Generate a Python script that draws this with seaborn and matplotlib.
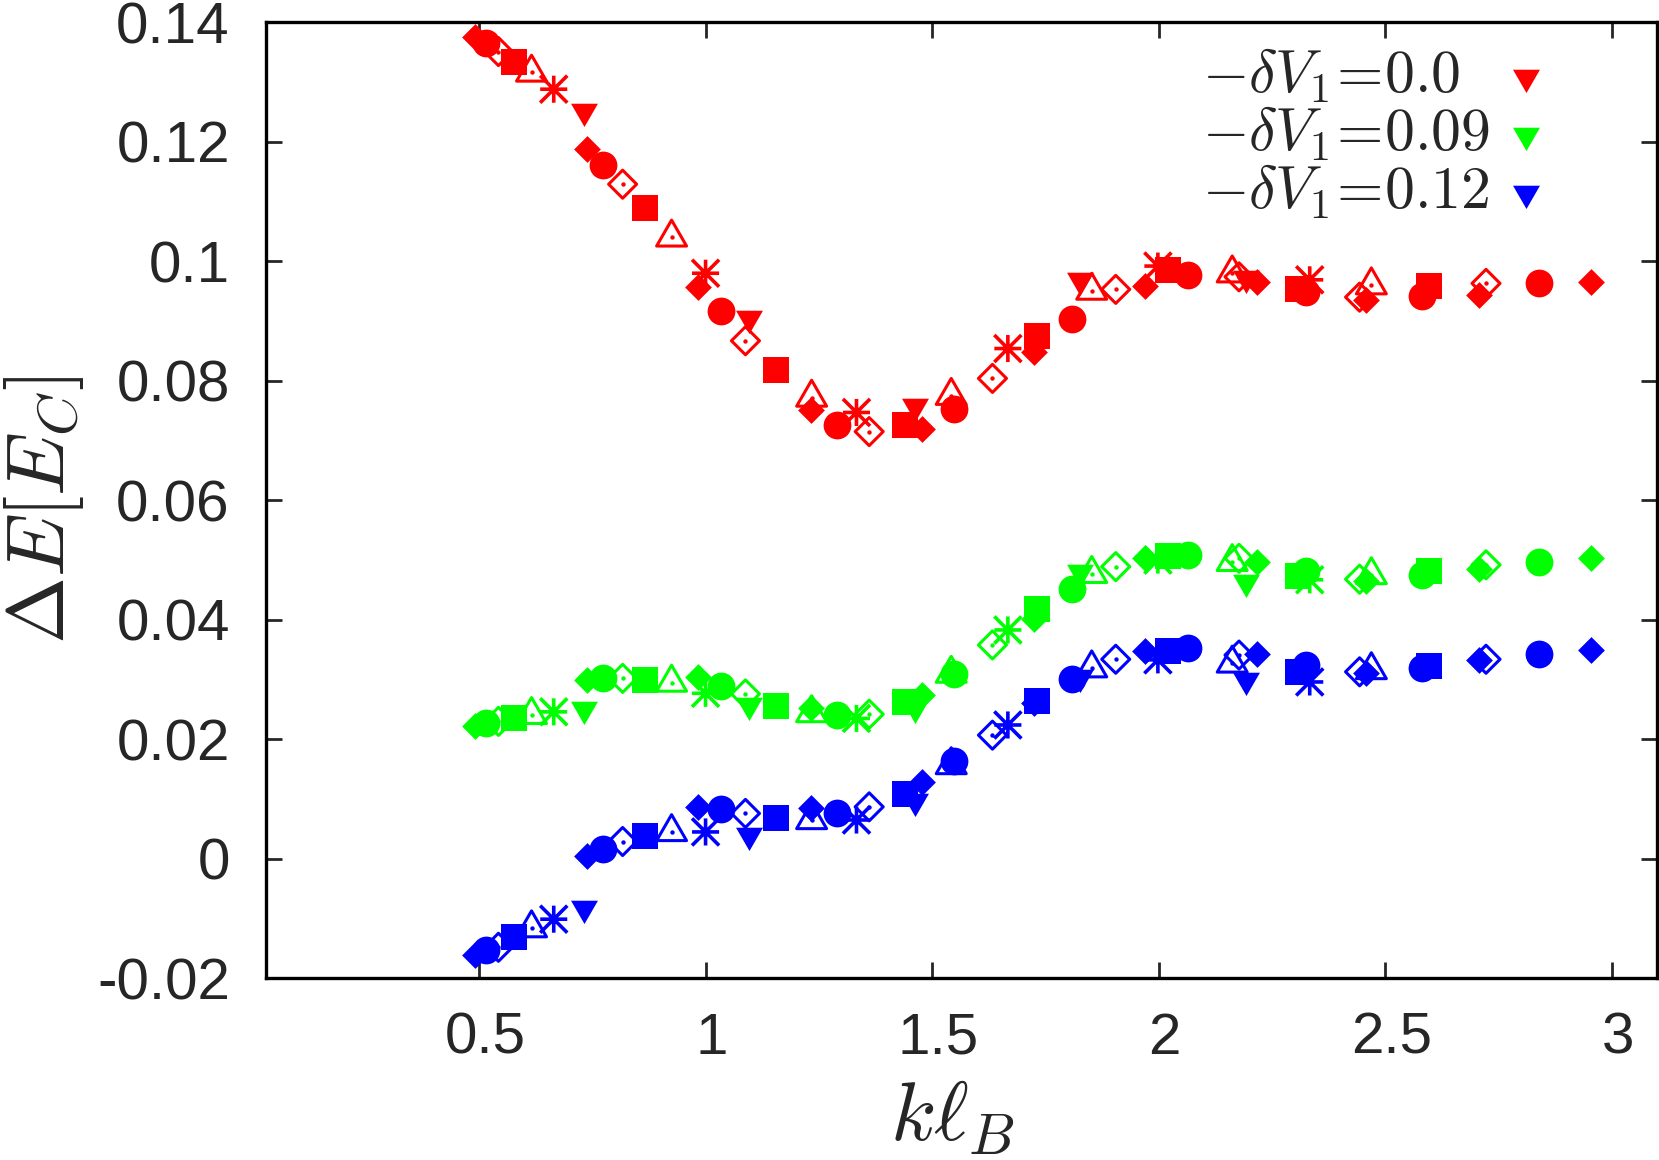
import matplotlib
matplotlib.use("Agg")
import numpy as np
import pandas as pd
import matplotlib.pyplot as plt
from matplotlib.path import Path
from matplotlib.transforms import ScaledTranslation, IdentityTransform
import seaborn as sns

# k*l_B values, one list per system size (marker type)
k_diam = [0.492, 0.739, 0.984, 1.232, 1.477, 1.725, 1.969, 2.216, 2.458, 2.706, 2.953]
k_circ = [0.516, 0.774, 1.033, 1.290, 1.549, 1.808, 2.065, 2.325, 2.581, 2.839]
k_odiam = [0.543, 0.817, 1.088, 1.361, 1.633, 1.905, 2.177, 2.443, 2.722]
k_sq = [0.577, 0.866, 1.155, 1.441, 1.732, 2.021, 2.307, 2.597]
k_otri = [0.616, 0.925, 1.234, 1.542, 1.852, 2.162, 2.469]
k_star = [0.665, 1.000, 1.333, 1.667, 1.998, 2.333]
k_dtri = [0.731, 1.096, 1.461, 1.826, 2.192]

# -dV1 = 0.0 (red)
red_diam = [0.1375, 0.1188, 0.0957, 0.0751, 0.0719, 0.0849, 0.0959, 0.0965, 0.0935, 0.0944, 0.0966]
red_circ = [0.1365, 0.1161, 0.0916, 0.0726, 0.0752, 0.0903, 0.0977, 0.0949, 0.0942, 0.0964]
red_odiam = [0.1351, 0.1129, 0.0867, 0.0715, 0.0804, 0.0953, 0.0974, 0.0940, 0.0963]
red_sq = [0.1334, 0.1089, 0.0818, 0.0726, 0.0875, 0.0985, 0.0953, 0.0959]
red_otri = [0.1316, 0.1040, 0.0772, 0.0775, 0.0951, 0.0980, 0.0960]
red_star = [0.1288, 0.0980, 0.0747, 0.0854, 0.0992, 0.0969]
red_dtri = [0.1252, 0.0905, 0.0757, 0.0968, 0.0972]

# -dV1 = 0.09 (green)
green_diam = [0.0223, 0.0300, 0.0305, 0.0253, 0.0274, 0.0402, 0.0503, 0.0497, 0.0465, 0.0485, 0.0503]
green_circ = [0.0227, 0.0302, 0.0290, 0.0240, 0.0309, 0.0451, 0.0508, 0.0481, 0.0475, 0.0497]
green_odiam = [0.0230, 0.0302, 0.0276, 0.0242, 0.0358, 0.0489, 0.0503, 0.0468, 0.0492]
green_sq = [0.0235, 0.0300, 0.0256, 0.0262, 0.0418, 0.0507, 0.0473, 0.0482]
green_otri = [0.0241, 0.0295, 0.0244, 0.0310, 0.0477, 0.0497, 0.0475]
green_star = [0.0246, 0.0277, 0.0235, 0.0383, 0.0500, 0.0467]
green_dtri = [0.0250, 0.0258, 0.0252, 0.0480, 0.0464]

# -dV1 = 0.12 (blue)
blue_diam = [-0.0161, 0.0005, 0.0087, 0.0085, 0.0129, 0.0260, 0.0348, 0.0343, 0.0311, 0.0332, 0.0349]
blue_circ = [-0.0153, 0.0016, 0.0083, 0.0077, 0.0164, 0.0301, 0.0352, 0.0324, 0.0320, 0.0342]
blue_odiam = [-0.0148, 0.0029, 0.0076, 0.0087, 0.0207, 0.0334, 0.0341, 0.0313, 0.0334]
blue_sq = [-0.0130, 0.0038, 0.0069, 0.0108, 0.0264, 0.0348, 0.0313, 0.0323]
blue_otri = [-0.0116, 0.0045, 0.0065, 0.0157, 0.0319, 0.0327, 0.0316]
blue_star = [-0.0101, 0.0045, 0.0065, 0.0224, 0.0333, 0.0296]
blue_dtri = [-0.0083, 0.0040, 0.0096, 0.0305, 0.0299]

labels = [r"$-\delta V_1\!=\!0.0$", r"$-\delta V_1\!=\!0.09$", r"$-\delta V_1\!=\!0.12$"]
colors = ["#ff0000", "#00ff00", "#0000ff"]

x_ticks = [0.5, 1, 1.5, 2, 2.5, 3]
x_ticklabels = ["0.5", "1", "1.5", "2", "2.5", "3"]
y_ticks = [-0.02, 0, 0.02, 0.04, 0.06, 0.08, 0.1, 0.12, 0.14]
y_ticklabels = ["-0.02", "0", "0.02", "0.04", "0.06", "0.08", "0.1", "0.12", "0.14"]

# gnuplot style point shapes (triangles centred on their centroid)
tri_up = Path([(0, 0.577), (-0.5, -0.289), (0.5, -0.289), (0, 0.577)], closed=True)
tri_down = Path([(0, -0.577), (-0.5, 0.289), (0.5, 0.289), (0, -0.577)], closed=True)
asterisk = Path([(-1, 0), (1, 0), (0, -1), (0, 1), (-1, -1), (1, 1), (-1, 1), (1, -1)],
                [Path.MOVETO, Path.LINETO] * 4)

# name -> (x values, marker, size, kind, edge width)
styles = {
    "diam": (k_diam, "D", 186, "filled", 0),
    "circ": (k_circ, "o", 400, "filled", 0),
    "odiam": (k_odiam, "D", 204, "open", 2.2),
    "sq": (k_sq, "s", 370, "filled", 0),
    "otri": (k_otri, tri_up, 620, "open", 2.2),
    "star": (k_star, asterisk, 380, "line", 2.6),
    "dtri": (k_dtri, tri_down, 500, "filled", 0),
}
series = {
    0: {"diam": red_diam, "circ": red_circ, "odiam": red_odiam, "sq": red_sq,
        "otri": red_otri, "star": red_star, "dtri": red_dtri},
    1: {"diam": green_diam, "circ": green_circ, "odiam": green_odiam, "sq": green_sq,
        "otri": green_otri, "star": green_star, "dtri": green_dtri},
    2: {"diam": blue_diam, "circ": blue_circ, "odiam": blue_odiam, "sq": blue_sq,
        "otri": blue_otri, "star": blue_star, "dtri": blue_dtri},
}

sns.set_style("ticks")
plt.rcParams["font.family"] = ["Liberation Sans", "DejaVu Sans"]
plt.rcParams["mathtext.fontset"] = "cm"

fig = plt.figure(figsize=(16.59, 11.6), dpi=100)
ax = fig.add_axes([0.1603, 0.1566, 0.8387, 0.8242])

for i, col in enumerate(colors):
    for name, (kx, mk, size, kind, lw) in styles.items():
        df = pd.DataFrame({"k": kx, "dE": series[i][name]})
        lab = labels[i] if name == "dtri" else None
        if kind == "filled":
            sns.scatterplot(data=df, x="k", y="dE", ax=ax, marker=mk, s=size,
                            color=col, linewidth=0, label=lab, legend=False)
        else:
            sns.scatterplot(data=df, x="k", y="dE", ax=ax, marker=mk, s=size,
                            facecolor="none", edgecolor=col, linewidth=lw, legend=False)
            if kind == "open":
                sns.scatterplot(data=df, x="k", y="dE", ax=ax, marker="o", s=10,
                                color=col, linewidth=0, legend=False)

ax.set_xlim(0.03, 3.1)
ax.set_ylim(-0.02, 0.14)
ax.set_xticks(x_ticks, x_ticklabels)
ax.set_yticks(y_ticks, y_ticklabels)
ax.tick_params(direction="in", length=11.5, width=2, top=True, right=True, labelsize=42)
ax.tick_params(axis="x", pad=24)
ax.tick_params(axis="y", pad=26)
for sp in ax.spines.values():
    sp.set_linewidth(2.4)
    sp.set_color("black")
# gnuplot puts the x labels a little right of the ticks
shift = ScaledTranslation(6 / 100, 0, fig.dpi_scale_trans)
for lbl in ax.get_xticklabels():
    lbl.set_transform(lbl.get_transform() + shift)

ax.set_xlabel(r"$k\ell_B$", fontsize=60)
ax.set_ylabel(r"$\Delta E[E_C]$", fontsize=58)
ax.xaxis.set_label_coords(0.493, -0.106)
ax.yaxis.set_label_coords(-0.129, 0.49)

leg = ax.legend(loc="upper right", bbox_to_anchor=(0.966, 1.031), frameon=False, fontsize=43,
                markerfirst=False, handlelength=1.0, handletextpad=0.12, labelspacing=0.0,
                borderpad=0.4, scatterpoints=1)

# key text is left justified in the reference: redraw the labels flush left
fig.canvas.draw()
boxes = [t.get_window_extent() for t in leg.get_texts()]
x_left = min(b.x0 for b in boxes)
for t, b in zip(leg.get_texts(), boxes):
    fig.text(x_left, b.y0, t.get_text(), fontsize=43, ha="left", va="bottom",
             transform=IdentityTransform())
    t.set_visible(False)

fig.savefig("out.png", dpi=100)
